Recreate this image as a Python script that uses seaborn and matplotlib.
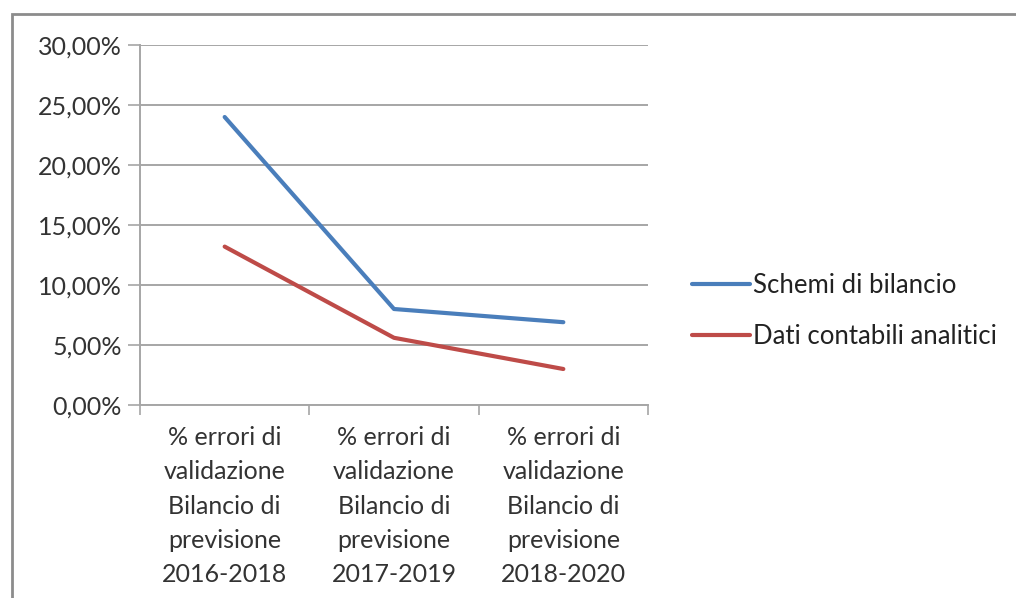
import matplotlib
matplotlib.use("Agg")
import matplotlib.pyplot as plt
from matplotlib.patches import Rectangle
from matplotlib.ticker import FixedLocator, FuncFormatter
import numpy as np
import pandas as pd
import seaborn as sns

categories = [
    "% errori di\nvalidazione\nBilancio di\nprevisione\n2016-2018",
    "% errori di\nvalidazione\nBilancio di\nprevisione\n2017-2019",
    "% errori di\nvalidazione\nBilancio di\nprevisione\n2018-2020",
]
series_names = ["Schemi di bilancio", "Dati contabili analitici"]
schemi_values = [24.0, 8.0, 6.9]
dati_values = [13.2, 5.6, 3.0]
y_ticks = [0, 5, 10, 15, 20, 25, 30]

df = pd.DataFrame({
    "pos": list(range(len(categories))) * 2,
    "value": schemi_values + dati_values,
    "series": [series_names[0]] * len(categories) + [series_names[1]] * len(categories),
})

sns.set_theme(style="white")
plt.rcParams["font.family"] = ["Lato", "DejaVu Sans"]

fig = plt.figure(figsize=(10.16, 5.98), dpi=100)
ax = fig.add_axes([140 / 1016, 1 - 405 / 598, 508 / 1016, 360 / 598])

palette = {series_names[0]: "#4a7ebb", series_names[1]: "#be4b48"}
sns.lineplot(data=df, x="pos", y="value", hue="series", palette=palette,
             linewidth=3.0, ax=ax, legend=False)

ax.set_xlim(-0.5, len(categories) - 0.5)
ax.set_ylim(0, 30)

# horizontal gridlines
ax.yaxis.set_major_locator(FixedLocator(y_ticks))
ax.yaxis.set_major_formatter(FuncFormatter(lambda v, _: f"{v:.2f}%".replace(".", ",")))
ax.grid(axis="y", color="#a6a6a6", linewidth=1.4)
ax.grid(axis="x", visible=False)
ax.set_axisbelow(True)

# category boundaries as major ticks, labels centred on minor ticks
ax.xaxis.set_major_locator(FixedLocator(np.arange(-0.5, len(categories), 1.0)))
ax.xaxis.set_major_formatter(FuncFormatter(lambda v, _: ""))
ax.xaxis.set_minor_locator(FixedLocator(range(len(categories))))
ax.set_xticklabels(categories, minor=True)
ax.tick_params(axis="x", which="minor", length=0, pad=15, labelsize=18,
               labelcolor="#333333")
ax.tick_params(axis="x", which="major", length=7, width=1.2, color="#a6a6a6",
               direction="out", bottom=True)
ax.tick_params(axis="y", length=9, width=1.2, color="#a6a6a6", direction="out",
               left=True, labelsize=18, labelcolor="#333333", pad=4)
for lbl in ax.get_xticklabels(minor=True):
    lbl.set_linespacing(1.6)

for side in ["top", "right"]:
    ax.spines[side].set_visible(False)
for side in ["left", "bottom"]:
    ax.spines[side].set_color("#a6a6a6")
    ax.spines[side].set_linewidth(1.4)

ax.set_xlabel("")
ax.set_ylabel("")

# legend on the right
handles = [plt.Line2D([], [], color=palette[n], linewidth=3.0) for n in series_names]
fig.legend(handles, series_names, loc="center left",
           bbox_to_anchor=(669 / 1016, 1 - 311 / 598), frameon=False,
           fontsize=18.5, handlelength=2.25, handletextpad=0.1,
           labelspacing=0.98, labelcolor="#222222")

# outer chart frame
fig.patches.append(Rectangle((12 / 1016, -0.05), 1.1, 1 - 14 / 598 + 0.05,
                             transform=fig.transFigure, fill=False,
                             edgecolor="#8c8c8c", linewidth=2.0))

fig.savefig("out.png", dpi=100)
